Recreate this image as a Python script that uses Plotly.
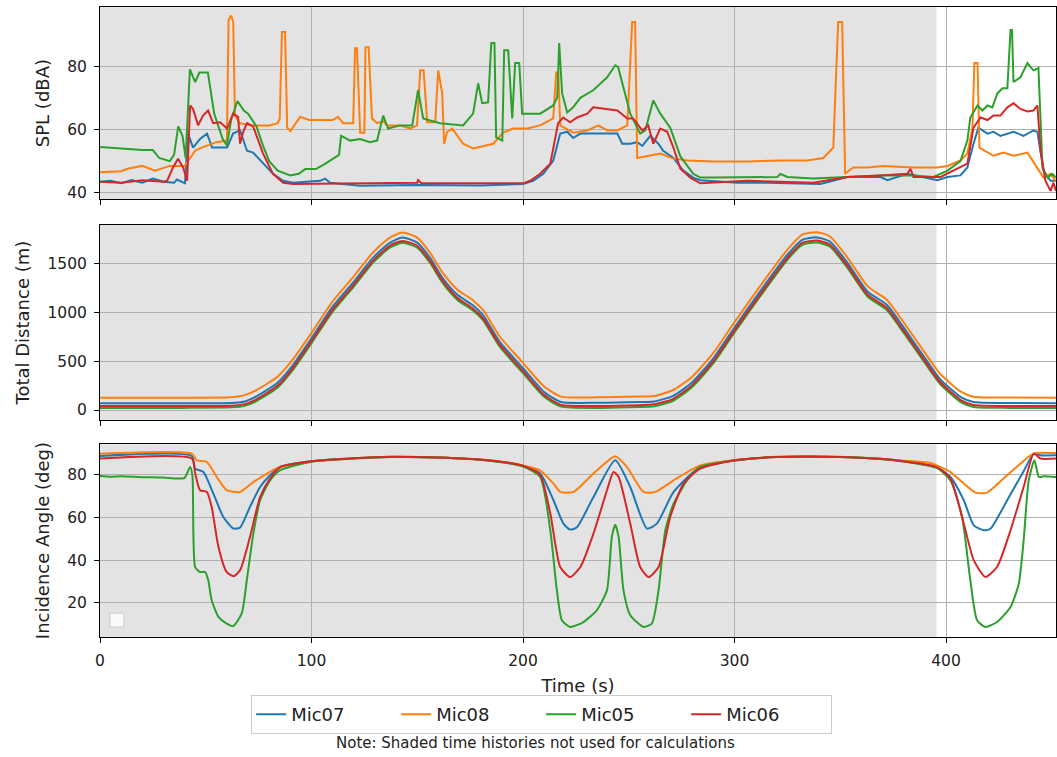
import plotly.graph_objects as go
from plotly.subplots import make_subplots

# ---- data ----
series_names = ["Mic07", "Mic08", "Mic05", "Mic06"]
series_colors = ["#1f77b4", "#ff7f0e", "#2ca02c", "#d62728"]

shade_end = 395.5  # shaded (unused) time span end, s

# SPL (dBA)
spl_t_mic07 = [0, 5, 10, 15, 20, 25, 30, 35, 36.4, 40.2, 41.6, 44, 47.3, 50.6, 53, 60.1, 62.9, 66.2, 67.6, 69.5, 72.4, 77.1, 81.8, 86.6, 91.3, 104.1, 106.4, 108.8, 123, 150, 180, 200, 204.8, 209.6, 214.3, 217.6, 220.9, 223.7, 227.1, 239.8, 244.6, 246.9, 250.7, 254, 256.4, 260.2, 264, 266.3, 271.1, 275.8, 280.5, 283.8, 301.3, 315.5, 340.6, 353.4, 369, 372.3, 381.7, 395.9, 400.7, 406.8, 410.1, 413, 415.3, 419.6, 422.4, 425.7, 431.9, 436.6, 441.3, 443.2, 446.1, 449.4, 452]
spl_mic07 = [43.5, 43.8, 43, 44, 43.2, 44.5, 43.5, 43.2, 44.2, 43, 58.7, 54.3, 57, 58.7, 54.3, 54.3, 58.7, 59.7, 57, 53.3, 52.7, 49.2, 46, 43.8, 43.2, 43.8, 44.5, 43.2, 42.2, 42.5, 42.3, 42.8, 43.8, 46, 50.2, 58.7, 59.3, 57.3, 58.7, 58.7, 58.7, 55.5, 55.5, 56, 54.8, 58, 55.5, 53.3, 51, 47, 44.8, 44, 43.2, 43.2, 42.8, 45, 45, 44, 46, 44, 45, 45.5, 48, 55.5, 60.6, 58.7, 59.3, 58, 59.3, 58, 59.7, 59.3, 47, 43.8, 43.8]

spl_t_mic08 = [0, 10, 13, 20, 26, 33, 40, 42.5, 45, 48, 55, 60, 60.8, 62, 63, 63.8, 66, 72, 80, 84, 85, 86, 87.5, 88.5, 90, 94.6, 99, 110, 112.5, 115, 119.7, 120.6, 121.5, 123, 125, 125.5, 127, 128.6, 131, 133.9, 135.8, 141.9, 146.6, 149.9, 151.4, 153, 154.7, 158.5, 159.9, 161.8, 162.7, 164.1, 166.5, 167.9, 171.7, 176.4, 181.2, 185.9, 190.6, 195.4, 202, 208.1, 214.3, 215.7, 216.7, 217.6, 223.7, 230.4, 235.6, 239.8, 244.5, 249.3, 251.6, 253, 254, 258.7, 264.9, 271.1, 277.7, 290, 306, 321.7, 334.4, 342, 346.7, 349, 350.9, 352.3, 356.1, 362.8, 370.3, 384.6, 395.9, 400.7, 406.8, 410.1, 412.5, 413.4, 414.9, 415.8, 419.6, 422.4, 427.2, 431.9, 438.5, 443.2, 446.1, 449.4, 452]
spl_mic08 = [46.5, 46.8, 47.6, 48.5, 47, 48.5, 48.5, 50.8, 53.3, 54.3, 56, 56.5, 94.6, 96, 94, 64.4, 62, 61.3, 61.3, 62, 63.5, 90.8, 90.8, 60.6, 59.5, 64, 63, 63, 64, 62, 62, 85.7, 85.7, 59, 59, 86, 86, 63.5, 62, 62.6, 61.3, 61.3, 60.3, 61.3, 78.7, 78.7, 62.3, 62.3, 78.7, 71.4, 55.5, 59.2, 60.3, 59, 55.5, 54, 54.8, 55.5, 59, 60.3, 60.3, 61.3, 63.5, 78, 78, 61.3, 59, 59.7, 61.3, 59.7, 59.7, 61.3, 94, 94, 51, 51.7, 52.4, 50.8, 50.2, 49.9, 49.9, 50.2, 50.2, 51, 54.3, 94, 94, 46, 48, 48, 48.5, 48, 48, 48.5, 50.2, 52.4, 60.6, 81, 81, 54.3, 52.7, 51.7, 52.7, 51.7, 52.7, 48, 44.8, 46, 43.6]

spl_t_mic05 = [0, 10, 20, 25, 28, 33, 35, 37, 39, 40.5, 42.5, 45, 47, 51, 54, 58, 60, 62, 65, 68, 70, 74, 77, 80, 84, 90, 94, 97, 102, 106, 111, 113, 114, 118.3, 123, 127.7, 131, 133.9, 136.2, 141.9, 147.6, 150.4, 152.8, 160.8, 171.7, 176.4, 178.8, 180.7, 183.5, 185, 186.5, 187.3, 190.2, 191.1, 193, 194.9, 196.3, 198.2, 199.6, 208.1, 214.3, 216.2, 217.1, 218.5, 220.9, 223.7, 227.1, 233.2, 239.8, 243.6, 245, 250.7, 255.4, 257.8, 261.6, 264.9, 269.6, 274.4, 280.5, 283.8, 290, 306, 320.2, 321.7, 325, 337.3, 353.4, 369, 384.6, 394, 400.7, 406.8, 410.1, 411.5, 414.9, 417.2, 419.6, 421.9, 424.3, 426.7, 429, 430.5, 431.2, 431.9, 435.2, 438.5, 441.3, 443.7, 445.6, 448, 450.3, 452]
spl_mic05 = [54.5, 54, 53.5, 53.5, 51, 50, 52, 61, 58, 51, 79, 75, 78, 78, 65, 57, 55, 63, 69, 66, 65, 61, 55, 50, 47, 45.5, 46, 47.5, 47.5, 49, 51, 52, 58, 56.5, 57, 56, 56.5, 64.4, 60.3, 61.3, 61.3, 72.4, 63.5, 62, 61.3, 65, 74.6, 68.3, 68.6, 87.3, 87.3, 57.5, 56.5, 85, 85, 63.5, 81, 81, 65, 65, 67.6, 70.2, 87.3, 71.4, 65.4, 67, 70, 72.4, 76.5, 80.3, 79.7, 65, 58.7, 59.7, 69.2, 65, 60.6, 51.5, 46, 44.8, 44.8, 45, 45, 46, 45, 44.5, 45, 45.5, 45.5, 45, 47, 50, 56.5, 63.8, 67.6, 66, 67.6, 67, 71.4, 73, 73, 91.4, 91.4, 75, 76.5, 81, 78.7, 79.4, 48, 44.8, 46, 44.8]

spl_t_mic06 = [0, 10, 20, 30, 31.7, 34.5, 36.9, 39.3, 41.2, 42.6, 44, 46.4, 48.7, 51.1, 53.5, 56.8, 60.1, 62.9, 65.3, 66.2, 67.6, 69.5, 72.4, 77.1, 81.8, 86.6, 91.3, 120, 150, 150.4, 152, 180, 200, 203.4, 208.1, 212.9, 216.6, 219, 222.3, 225.6, 230.4, 233.2, 239.8, 244.6, 249.3, 252.1, 256.4, 259.2, 261.6, 264.9, 268.2, 271.1, 274.4, 279.1, 283.8, 290, 306, 337.3, 353.4, 369, 381.7, 383.2, 384.6, 397.4, 403.5, 410.1, 413, 416.3, 419.6, 422.4, 425.7, 429, 431.9, 435.2, 438.5, 441.3, 443.2, 444.7, 447, 449.4, 450.8, 452]
spl_mic06 = [43.5, 43.2, 44, 43.5, 43.8, 48, 50.8, 48, 43.8, 67.6, 66.5, 61.3, 64.4, 66, 62, 62.3, 60.3, 65, 64, 55.5, 59, 62, 61, 52.4, 46, 43.2, 42.8, 43, 43.2, 44, 43, 43, 43, 43.8, 46, 49.2, 62, 63.8, 62.3, 63.8, 65, 67, 66.5, 66, 63.5, 63.5, 59.7, 61.3, 55.5, 60.3, 59.3, 54.3, 47.6, 44.8, 43, 43.2, 43.8, 43.2, 45, 45.5, 46, 47.6, 45, 45, 47, 49.2, 60.6, 63.8, 63, 64.4, 64.4, 67, 68.3, 66.5, 65.7, 66, 67.6, 53.3, 43.8, 40.6, 43.2, 40.6]

# Total distance (m)
dist_t = [0, 40, 62, 68, 74, 84, 91, 100, 110, 120, 129, 137, 143, 150, 156, 162, 169, 176, 181, 189, 200, 210, 218, 236, 255, 262, 271, 280, 290, 300, 312, 325, 332, 339, 345, 353, 363, 372, 378, 388, 397, 407, 413, 430, 452]
dist_mic07 = [70, 70, 72, 85, 140, 280, 455, 735, 1058, 1315, 1558, 1712, 1766, 1714, 1560, 1352, 1180, 1078, 975, 698, 428, 185, 82, 75, 82, 88, 145, 285, 530, 845, 1212, 1590, 1743, 1768, 1727, 1520, 1212, 1078, 905, 595, 322, 132, 82, 72, 70]
dist_mic08 = [126, 126, 130, 150, 205, 342, 513, 790, 1112, 1369, 1612, 1766, 1818, 1766, 1612, 1407, 1232, 1130, 1027, 753, 483, 240, 137, 130, 138, 144, 205, 342, 585, 900, 1266, 1643, 1797, 1821, 1780, 1574, 1266, 1130, 958, 650, 377, 188, 137, 128, 126]
dist_mic05 = [20, 22, 28, 40, 92, 230, 405, 685, 1008, 1265, 1508, 1662, 1712, 1662, 1508, 1302, 1128, 1025, 922, 648, 378, 135, 35, 22, 30, 38, 95, 235, 480, 795, 1160, 1538, 1692, 1715, 1675, 1468, 1160, 1025, 852, 545, 272, 82, 32, 22, 20]
dist_mic06 = [40, 42, 45, 58, 110, 250, 425, 705, 1028, 1285, 1528, 1682, 1732, 1682, 1528, 1322, 1148, 1045, 942, 668, 398, 155, 52, 42, 50, 58, 115, 255, 500, 815, 1180, 1558, 1712, 1735, 1695, 1488, 1180, 1045, 872, 565, 292, 102, 52, 42, 40]

# Incidence angle (deg)
ang_t_mic07 = [0, 43.4, 45, 48.9, 53.6, 58.3, 63.1, 66.2, 70.9, 75.7, 80.4, 85.1, 100, 120, 137, 160, 184.5, 200, 208.1, 214.4, 219.1, 222.3, 225.5, 233.3, 243.6, 250.7, 258.6, 263.3, 271.2, 283.8, 299.5, 320, 350, 376.8, 395.8, 402.1, 408.4, 413.1, 417.8, 421, 428.9, 436.7, 441.5, 444.6, 452]
ang_mic07 = [88.7, 88.7, 82.8, 81.2, 71.1, 60.2, 54.8, 55.2, 64.9, 74.2, 79.7, 83.6, 86.2, 87.6, 88.2, 88, 86.5, 84, 80.5, 68, 57.1, 54.3, 55.4, 69.5, 86.7, 74.2, 54.8, 57.1, 71.9, 83.6, 86.7, 88.2, 88.2, 86.7, 83.3, 78.9, 68, 56.3, 54, 54.7, 68, 81.6, 89.8, 89, 89]

ang_t_mic08 = [0, 43.4, 45.7, 50.5, 55.2, 59.9, 66.2, 72.5, 78.9, 85.1, 100, 120, 137, 160, 184.5, 200, 208.1, 214.4, 217.6, 223.9, 233.3, 243.6, 249.1, 257, 262.5, 271.2, 283.8, 299.5, 320, 350, 376.8, 392.6, 402.1, 408.4, 413.9, 419.4, 428.9, 439.9, 442.3, 452]
ang_mic08 = [89.8, 89.8, 86.7, 85.9, 78.9, 72.7, 71.9, 76.5, 80.5, 83.6, 86.3, 87.6, 88.3, 88, 86.7, 84.3, 82, 75.8, 71.9, 71.9, 80.5, 88.6, 83.6, 71.9, 71.9, 77.3, 84.3, 86.7, 88.3, 88.3, 86.7, 85.4, 81.2, 75.8, 71.6, 71.6, 79.7, 89, 90.1, 90.1]

ang_t_mic05 = [0, 5, 10, 20, 30, 35, 40, 42.6, 43.7, 45, 47.3, 49.7, 51.2, 52.8, 56, 59.9, 63, 67, 69.4, 72.5, 75.7, 80.4, 85.1, 100, 120, 137, 160, 184.5, 200, 208.1, 212.9, 216, 218.4, 222.3, 228.6, 234.9, 239.7, 242, 243.6, 245.2, 247.5, 250.7, 257, 260.9, 264.1, 267.3, 271.2, 277.6, 283.8, 299.5, 320, 350, 376.8, 395.8, 402.1, 407.6, 411.5, 414.7, 418.6, 424.1, 430.5, 434.4, 436.7, 439.1, 441.8, 443.9, 446.2, 452]
ang_mic05 = [79.4, 79, 79.2, 78.8, 78.6, 78.2, 78.5, 83.6, 79.5, 36.8, 34.5, 34.5, 30.6, 21.3, 13.5, 10.4, 9.2, 15.1, 30.6, 52.4, 68, 77.3, 82, 86, 87.5, 88.2, 88, 86.5, 83.8, 78.9, 54, 26, 11.9, 8.8, 11.1, 16.6, 26, 50.9, 56.6, 50.9, 26, 14.3, 8.8, 10.4, 26, 54, 66.4, 77.3, 83.6, 86.5, 88.2, 88.2, 86.5, 83, 77.3, 60.2, 30.6, 11.9, 8.8, 11.1, 18.1, 29, 49.3, 77.3, 86.7, 78.9, 79.2, 78.9]

ang_t_mic06 = [0, 43.4, 45, 47.3, 50.5, 52.8, 56, 59.9, 63.1, 66.2, 70.9, 75.7, 80.4, 85.1, 100, 120, 137, 160, 184.5, 200, 208.1, 212.9, 217.6, 222.3, 227.1, 233.3, 239.7, 242.8, 245.2, 250.7, 255.4, 259.4, 264.1, 269.6, 275.9, 283.8, 299.5, 320, 350, 376.8, 395.8, 402.1, 408.4, 413.1, 418.6, 424.1, 430.5, 436.7, 441.5, 444.6, 452]
ang_mic06 = [87.5, 87.5, 80.5, 72.7, 71.9, 64.9, 46.2, 34.5, 32.5, 35.3, 50.8, 69.5, 78.1, 83.4, 86.2, 87.6, 88.3, 88, 86.6, 84.2, 79.8, 61.8, 36.8, 32.1, 36.8, 52.4, 72.7, 81.2, 78.9, 57.1, 36.8, 32.1, 36.8, 60.2, 75.8, 82.8, 86.6, 88.2, 88.2, 86.6, 83.4, 78.1, 57.1, 40, 32.2, 36.8, 54, 74.2, 89.8, 87.5, 87.5]

spl = [(spl_t_mic07, spl_mic07), (spl_t_mic08, spl_mic08), (spl_t_mic05, spl_mic05), (spl_t_mic06, spl_mic06)]
dist = [(dist_t, dist_mic07), (dist_t, dist_mic08), (dist_t, dist_mic05), (dist_t, dist_mic06)]
ang = [(ang_t_mic07, ang_mic07), (ang_t_mic08, ang_mic08), (ang_t_mic05, ang_mic05), (ang_t_mic06, ang_mic06)]

fig = make_subplots(rows=3, cols=1, shared_xaxes=True)

for row, panel, shape in [(1, spl, "linear"), (2, dist, "spline"), (3, ang, "spline")]:
    for i, (t, v) in enumerate(panel):
        fig.add_trace(go.Scatter(
            x=t, y=v, mode="lines", name=series_names[i],
            line=dict(color=series_colors[i], width=2, shape=shape, smoothing=0.6 if shape == "spline" else None),
            legendgroup=series_names[i], showlegend=(row == 1),
        ), row=row, col=1)

# shaded time histories (not used)
for k in ["", "2", "3"]:
    fig.add_shape(type="rect", xref="x" + k, yref="y" + k + " domain",
                  x0=0, x1=shade_end, y0=0, y1=1, fillcolor="#e3e3e3",
                  line=dict(width=0), layer="below")

# empty legend box in the bottom panel
fig.add_shape(type="rect", xref="x3 domain", yref="y3 domain",
              x0=0.0105, x1=0.025, y0=0.052, y1=0.124,
              fillcolor="rgba(255,255,255,0.8)", line=dict(color="#cccccc", width=1))

axis_style = dict(showline=True, mirror=True, linecolor="black", linewidth=1,
                  showgrid=True, gridcolor="#b0b0b0", gridwidth=1, zeroline=False,
                  ticks="outside", ticklen=5, tickcolor="black", ticklabelstandoff=4,
                  tickfont=dict(size=15.5, color="#222"))

fig.update_xaxes(range=[0, 452], tickvals=[0, 100, 200, 300, 400], **axis_style)
fig.update_xaxes(title=dict(text="Time (s)", standoff=10, font=dict(size=18)), row=3, col=1)
fig.update_yaxes(**axis_style)

fig.update_layout(
    width=1057, height=757,
    margin=dict(l=100, r=1, t=7, b=120),
    paper_bgcolor="white", plot_bgcolor="white",
    font=dict(family="DejaVu Sans", size=15.5, color="#222"),
    yaxis=dict(domain=[0.695, 1.0], range=[38.0, 98.7], tickvals=[40, 60, 80],
               title=dict(text="SPL (dBA)", standoff=12, font=dict(size=18))),
    yaxis2=dict(domain=[0.344, 0.654], range=[-105, 1895], tickvals=[0, 500, 1000, 1500],
                title=dict(text="Total Distance (m)", standoff=13, font=dict(size=18))),
    yaxis3=dict(domain=[0.0, 0.306], range=[4.1, 94.2], tickvals=[20, 40, 60, 80],
                title=dict(text="Incidence Angle (deg)", standoff=12, font=dict(size=18))),
    legend=dict(orientation="h", x=0.462, xanchor="center", y=-0.092, yanchor="top",
                bordercolor="#cccccc", borderwidth=1, bgcolor="white",
                font=dict(size=18), entrywidth=100, entrywidthmode="pixels"),
    showlegend=True,
)

fig.add_annotation(text="Note: Shaded time histories not used for calculations",
                   xref="paper", yref="paper", x=0.456, y=-0.168,
                   showarrow=False, font=dict(size=15, color="#222"), yanchor="middle")

fig.write_html("out.html", config={"displayModeBar": False},
               post_script="document.body.style.margin='0';")
